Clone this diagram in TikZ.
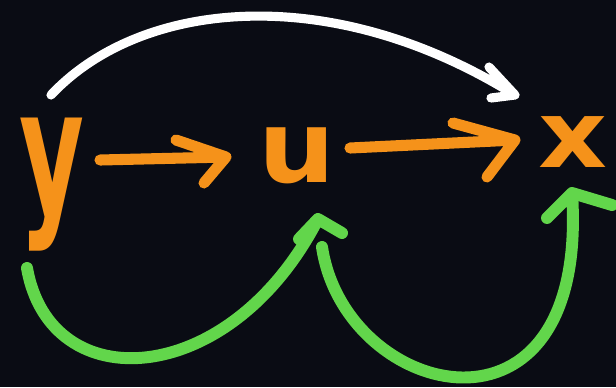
\documentclass[tikz,border=0pt]{standalone}
\usepackage{fontspec}
\setmainfont{DejaVu Sans}
\definecolor{bg}{RGB}{10,12,20}
\definecolor{ora}{RGB}{245,146,26}
\definecolor{grn}{RGB}{98,214,75}
\begin{document}
\begin{tikzpicture}[x=0.02cm,y=-0.02cm,
  letter/.style={text=ora, inner sep=0pt},
  stroke/.style={line cap=round, line join=round},
  oarrow/.style={stroke, draw=ora, line width=6.3pt},
  warrow/.style={stroke, draw=white, line width=5.2pt},
  garrow/.style={stroke, draw=grn, line width=6.8pt}]
\fill[bg] (0,0) rectangle (616,387);
\useasboundingbox (0,0) rectangle (616,387);
% letters
\node[letter, anchor=north, font=\fontsize{71}{71}\selectfont\bfseries, xscale=0.8, yscale=1.4] (y) at (52,117) {y};
\node[letter, anchor=base, font=\fontsize{57}{57}\selectfont\bfseries, xscale=1.08] (u) at (297,182) {u};
\node[letter, anchor=base, font=\fontsize{53}{53}\selectfont\bfseries, xscale=1.15] (x) at (573,167) {x};
% connector end points
\coordinate (yR) at (100,160);
\coordinate (uL) at (226,157);
\coordinate (uR) at (350,148);
\coordinate (xL) at (515,140);
\coordinate (yT) at (51,95);
\coordinate (xT) at (515,95);
\coordinate (yB) at (27,268);
\coordinate (uB) at (318,219);
\coordinate (uB2) at (322,247);
\coordinate (xB) at (572,193);
% orange arrows
\draw[oarrow] (yR) -- (uL) -- ++(-50,-17) (uL) -- ++(-22,26);
\draw[oarrow] (uR) -- (xL) -- ++(-62,-17) (xL) -- ++(-28,37);
% white arrow
\draw[warrow] (yT) .. controls (140,0) and (330,-20) .. (xT) -- ++(-26,-28) (xT) -- ++(-24,3);
% green arrows
\draw[garrow] (yB) .. controls (50,400) and (230,390) .. (uB) -- ++(-19,20) (uB) -- ++(24,14);
\draw[garrow] (uB2) .. controls (345,400) and (590,460) .. (xB) -- ++(-25,25) (xB) -- ++(40,12);
\end{tikzpicture}
\end{document}
